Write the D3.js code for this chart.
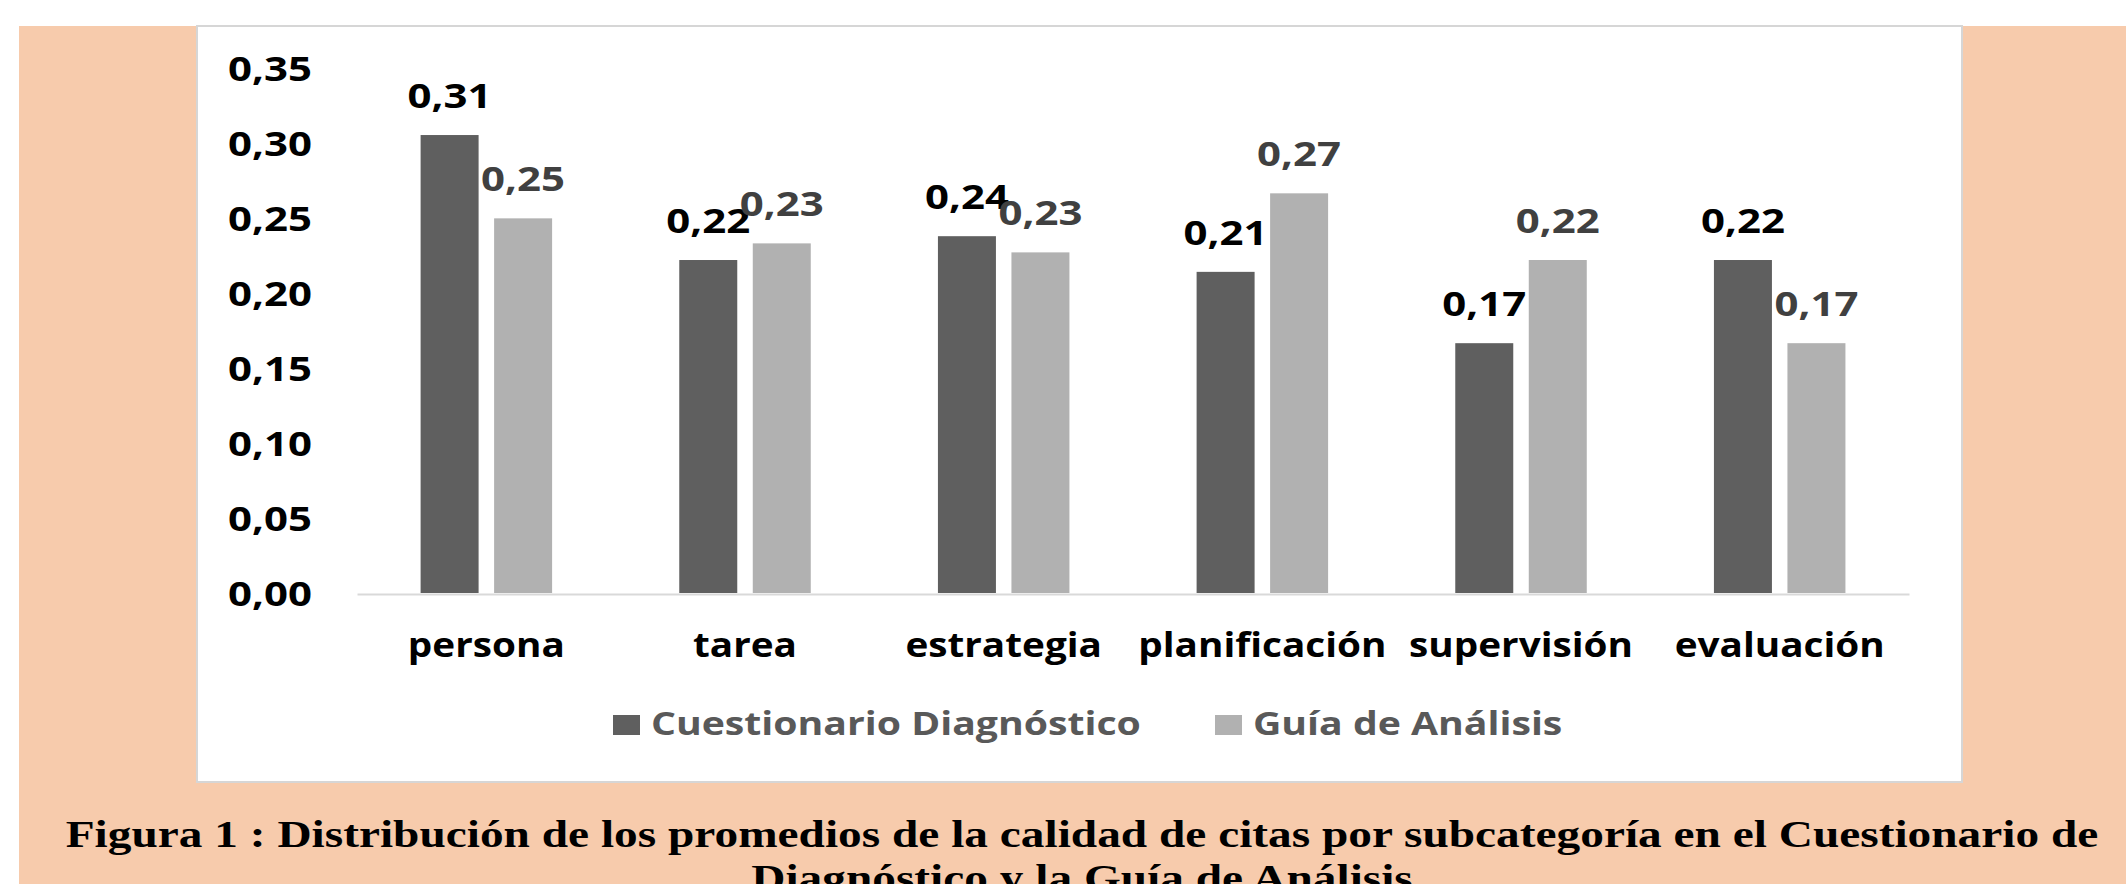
<!DOCTYPE html>
<html><head><meta charset="utf-8">
<script src="https://cdn.jsdelivr.net/npm/d3@7"></script>
<style>html,body{margin:0;padding:0;background:#fff;overflow:hidden}</style>
</head><body>
<svg id="c" width="2126" height="884"></svg>
<script>
const categories = ["persona","tarea","estrategia","planificación","supervisión","evaluación"];
const seriesNames = ["Cuestionario Diagnóstico","Guía de Análisis"];
const cuestionario = [0.3056,0.2222,0.2381,0.2143,0.1667,0.2222];
const guia = [0.25,0.2333,0.2273,0.2667,0.2222,0.1667];
const yTicks = [0,0.05,0.10,0.15,0.20,0.25,0.30,0.35];
const titleLines = ["Figura 1 : Distribución de los promedios de la calidad de citas por subcategoría en el Cuestionario de","Diagnóstico y la Guía de Análisis"];

const series = [cuestionario, guia];
const barColors = ["#5f5f5f","#b1b1b1"];
const labelColors = ["#000000","#404040"];
const SANS = "'Open Sans', sans-serif";
const SERIF = "'Liberation Serif', 'Times New Roman', serif";

const svg = d3.select("#c");
const loc = d3.formatLocale({decimal:",",thousands:".",grouping:[3],currency:["","€"]});
const fmt = loc.format(".2f");

function measure(str, family, size, weight){
  const t = svg.append("text").attr("font-family",family).attr("font-size",size).attr("font-weight",weight).text(str);
  const w = t.node().getBBox().width; t.remove(); return w;
}

// background
svg.append("rect").attr("x",0).attr("y",0).attr("width",2126).attr("height",884).attr("fill","#fff");
svg.append("rect").attr("x",19).attr("y",26).attr("width",2107).attr("height",858).attr("fill","#F7CBAC");
svg.append("rect").attr("x",197).attr("y",26).attr("width",1765).attr("height",756)
  .attr("fill","#fff").attr("stroke","#d6d6d6").attr("stroke-width",2);

const x0 = d3.scaleBand().domain(categories).range([357,1909]);
const x1 = d3.scaleBand().domain([0,1]).range([63.6,195.1]).paddingInner(0.211);
const y = d3.scaleLinear().domain([0,0.35]).range([593,68.5]);

const tickSize = 34, catSize = 34, legSize = 32, titleSize = 38;
const sxTick = 84 / measure("0,35", SANS, tickSize, 700);
const sxCat = 157 / measure("persona", SANS, catSize, 700);
const sxLeg = 490 / measure(seriesNames[0], SANS, legSize, 700);
const sxTitle = 2033 / measure(titleLines[0], SERIF, titleSize, 700);

// y axis
const gy = svg.append("g").attr("transform","translate(357,0)")
  .call(d3.axisLeft(y).tickValues(yTicks).tickFormat(fmt).tickSize(0));
gy.select(".domain").remove();
gy.selectAll("text").attr("x",null).attr("dy","0.357em")
  .attr("transform",`translate(${312-357},0) scale(${sxTick},1)`)
  .attr("font-family",SANS).attr("font-size",tickSize).attr("font-weight",700).attr("fill","#000");

// x axis
const gx = svg.append("g").attr("transform","translate(0,594)")
  .call(d3.axisBottom(x0).tickSize(0).tickSizeOuter(0));
gx.select(".domain").attr("stroke","#d9d9d9").attr("stroke-width",2);
gx.selectAll("text").attr("y",0).attr("dy",0)
  .attr("transform",`translate(0,63) scale(${sxCat},1)`)
  .attr("font-family",SANS).attr("font-size",catSize).attr("font-weight",700).attr("fill","#000");

// bars
const groups = svg.append("g").selectAll("g").data(categories).join("g")
  .attr("transform", c => `translate(${x0(c)},0)`);
groups.selectAll("rect").data((c,ci) => series.map((s,si) => ({si, v:s[ci]}))).join("rect")
  .attr("x", d => x1(d.si)).attr("width", x1.bandwidth())
  .attr("y", d => y(d.v)).attr("height", d => y(0) - y(d.v))
  .attr("fill", d => barColors[d.si]);
groups.selectAll("text").data((c,ci) => series.map((s,si) => ({si, v:s[ci]}))).join("text")
  .attr("transform", d => `translate(${x1(d.si)+x1.bandwidth()/2},${y(d.v)-27}) scale(${sxTick},1)`)
  .attr("text-anchor","middle").attr("font-family",SANS).attr("font-size",tickSize).attr("font-weight",700)
  .attr("fill", d => labelColors[d.si]).text(d => fmt(d.v));

// legend
const legendX = [613, 1215];
const leg = svg.append("g").selectAll("g").data(seriesNames).join("g")
  .attr("transform",(d,i)=>`translate(${legendX[i]},715)`);
leg.append("rect").attr("x",0).attr("y",0).attr("width",27).attr("height",20).attr("fill",(d,i)=>barColors[i]);
leg.append("text").attr("transform",`translate(38,20) scale(${sxLeg},1)`)
  .attr("font-family",SANS).attr("font-size",legSize).attr("font-weight",700).attr("fill","#595959").text(d=>d);

// title
svg.append("g").selectAll("text").data(titleLines).join("text")
  .attr("transform",(d,i)=>`translate(1082,${847+i*43.5}) scale(${sxTitle},1)`)
  .attr("text-anchor","middle").attr("font-family",SERIF).attr("font-size",titleSize).attr("font-weight",700)
  .attr("fill","#000").text(d=>d);
</script>
</body></html>
